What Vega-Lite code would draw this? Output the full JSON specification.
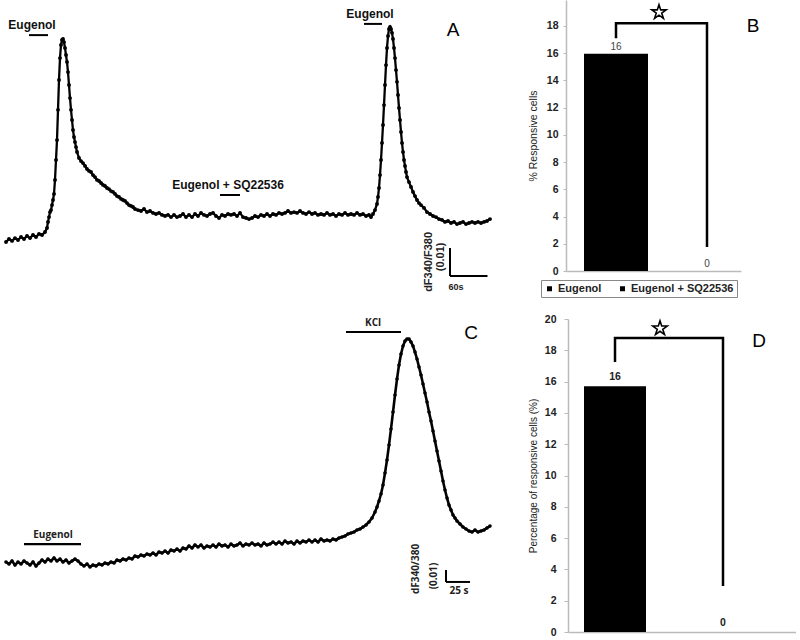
{
"$schema": "https://vega.github.io/schema/vega-lite/v6.json",
"padding": 0,
"background": "white",
"config": {"view": {"stroke": null}, "font": "Liberation Sans", "axis": {"labelOverlap": false}, "axisY": {"labelOverlap": false}},
"spacing": 14,
"resolve": {"scale": {"color": "independent"}, "legend": {"color": "independent"}},
"datasets": {
"traceA": [
{"t":0,"r":0.0207},{"t":4.8,"r":0.0218},{"t":9.6,"r":0.0211},{"t":14.4,"r":0.0221},{"t":19.2,"r":0.0214},{"t":24,"r":0.0225},{"t":28.8,"r":0.0218},{"t":33.6,"r":0.0229},{"t":38.4,"r":0.0221},{"t":43.2,"r":0.0232},{"t":48,"r":0.0225},{"t":52.8,"r":0.0236},{"t":57.6,"r":0.0232},{"t":62.4,"r":0.0243},{"t":65.6,"r":0.0257},{"t":67.2,"r":0.0279},{"t":68.8,"r":0.0296},{"t":70.4,"r":0.0314},{"t":72,"r":0.0321},{"t":73.6,"r":0.0339},{"t":75.2,"r":0.0357},{"t":76.8,"r":0.0379},{"t":78.4,"r":0.0429},{"t":80,"r":0.05},{"t":81.6,"r":0.0571},{"t":83.2,"r":0.0679},{"t":84.8,"r":0.0786},{"t":86.4,"r":0.0864},{"t":88,"r":0.0911},{"t":89.6,"r":0.0929},{"t":91.2,"r":0.0932},{"t":92.8,"r":0.0921},{"t":94.4,"r":0.09},{"t":96,"r":0.0875},{"t":97.6,"r":0.085},{"t":99.2,"r":0.0814},{"t":100.8,"r":0.0768},{"t":102.4,"r":0.0721},{"t":104,"r":0.0679},{"t":105.6,"r":0.0643},{"t":107.2,"r":0.0607},{"t":108.8,"r":0.0582},{"t":110.4,"r":0.0564},{"t":112,"r":0.0546},{"t":113.6,"r":0.0529},{"t":116.8,"r":0.0507},{"t":120,"r":0.0496},{"t":123.2,"r":0.0489},{"t":126.4,"r":0.0479},{"t":129.6,"r":0.0468},{"t":132.8,"r":0.0461},{"t":136,"r":0.0457},{"t":139.2,"r":0.0446},{"t":142.4,"r":0.0439},{"t":145.6,"r":0.0429},{"t":148.8,"r":0.0425},{"t":152,"r":0.0418},{"t":155.2,"r":0.0411},{"t":158.4,"r":0.0407},{"t":161.6,"r":0.04},{"t":164.8,"r":0.0396},{"t":168,"r":0.0389},{"t":171.2,"r":0.0386},{"t":174.4,"r":0.0379},{"t":177.6,"r":0.0371},{"t":180.8,"r":0.0368},{"t":184,"r":0.0361},{"t":187.2,"r":0.0357},{"t":190.4,"r":0.0354},{"t":193.6,"r":0.0346},{"t":196.8,"r":0.0339},{"t":200,"r":0.0336},{"t":203.2,"r":0.0332},{"t":206.4,"r":0.0325},{"t":211.2,"r":0.0321},{"t":216,"r":0.0318},{"t":220.8,"r":0.0325},{"t":225.6,"r":0.0314},{"t":230.4,"r":0.0318},{"t":235.2,"r":0.0311},{"t":240,"r":0.0307},{"t":244.8,"r":0.0311},{"t":249.6,"r":0.0304},{"t":254.4,"r":0.03},{"t":259.2,"r":0.0304},{"t":264,"r":0.0296},{"t":268.8,"r":0.0304},{"t":273.6,"r":0.0296},{"t":278.4,"r":0.03},{"t":283.2,"r":0.0307},{"t":288,"r":0.0296},{"t":292.8,"r":0.0304},{"t":297.6,"r":0.0296},{"t":302.4,"r":0.0307},{"t":307.2,"r":0.03},{"t":312,"r":0.0311},{"t":316.8,"r":0.0304},{"t":321.6,"r":0.03},{"t":326.4,"r":0.0307},{"t":331.2,"r":0.0311},{"t":336,"r":0.03},{"t":340.8,"r":0.0293},{"t":345.6,"r":0.0304},{"t":350.4,"r":0.03},{"t":355.2,"r":0.0307},{"t":360,"r":0.0304},{"t":364.8,"r":0.0307},{"t":369.6,"r":0.03},{"t":374.4,"r":0.0311},{"t":379.2,"r":0.0296},{"t":384,"r":0.0293},{"t":388.8,"r":0.0289},{"t":393.6,"r":0.0293},{"t":398.4,"r":0.03},{"t":403.2,"r":0.0296},{"t":408,"r":0.0304},{"t":412.8,"r":0.03},{"t":417.6,"r":0.0307},{"t":422.4,"r":0.03},{"t":427.2,"r":0.0307},{"t":432,"r":0.0304},{"t":436.8,"r":0.0311},{"t":441.6,"r":0.0307},{"t":446.4,"r":0.0311},{"t":451.2,"r":0.0318},{"t":456,"r":0.0311},{"t":460.8,"r":0.0314},{"t":465.6,"r":0.0311},{"t":470.4,"r":0.0318},{"t":475.2,"r":0.0311},{"t":480,"r":0.0307},{"t":484.8,"r":0.0314},{"t":489.6,"r":0.0307},{"t":494.4,"r":0.0311},{"t":499.2,"r":0.0304},{"t":504,"r":0.0307},{"t":508.8,"r":0.0304},{"t":513.6,"r":0.0311},{"t":518.4,"r":0.0304},{"t":523.2,"r":0.0307},{"t":528,"r":0.03},{"t":532.8,"r":0.0307},{"t":537.6,"r":0.0304},{"t":542.4,"r":0.0311},{"t":547.2,"r":0.0304},{"t":552,"r":0.0307},{"t":556.8,"r":0.0304},{"t":561.6,"r":0.0311},{"t":566.4,"r":0.0304},{"t":571.2,"r":0.0307},{"t":576,"r":0.03},{"t":580.8,"r":0.0304},{"t":584,"r":0.0296},{"t":587.2,"r":0.0307},{"t":590.4,"r":0.0321},{"t":593.6,"r":0.0343},{"t":595.2,"r":0.0368},{"t":596.8,"r":0.04},{"t":598.4,"r":0.0446},{"t":600,"r":0.05},{"t":601.6,"r":0.0561},{"t":603.2,"r":0.0625},{"t":604.8,"r":0.0696},{"t":606.4,"r":0.0768},{"t":608,"r":0.0839},{"t":609.6,"r":0.09},{"t":611.2,"r":0.0943},{"t":612.8,"r":0.0968},{"t":614.4,"r":0.0975},{"t":616,"r":0.0968},{"t":617.6,"r":0.0954},{"t":619.2,"r":0.0932},{"t":620.8,"r":0.09},{"t":622.4,"r":0.0864},{"t":624,"r":0.0821},{"t":625.6,"r":0.0779},{"t":627.2,"r":0.0732},{"t":628.8,"r":0.0686},{"t":630.4,"r":0.0643},{"t":632,"r":0.06},{"t":633.6,"r":0.0561},{"t":635.2,"r":0.0529},{"t":636.8,"r":0.05},{"t":638.4,"r":0.0479},{"t":640,"r":0.0457},{"t":641.6,"r":0.0439},{"t":644.8,"r":0.0421},{"t":648,"r":0.0404},{"t":651.2,"r":0.0386},{"t":654.4,"r":0.0371},{"t":657.6,"r":0.0357},{"t":660.8,"r":0.0346},{"t":664,"r":0.0339},{"t":668.8,"r":0.0329},{"t":673.6,"r":0.0314},{"t":678.4,"r":0.0307},{"t":683.2,"r":0.03},{"t":688,"r":0.0296},{"t":692.8,"r":0.0289},{"t":697.6,"r":0.0286},{"t":702.4,"r":0.0279},{"t":707.2,"r":0.0282},{"t":712,"r":0.0275},{"t":716.8,"r":0.0279},{"t":721.6,"r":0.0271},{"t":726.4,"r":0.0275},{"t":731.2,"r":0.0279},{"t":736,"r":0.0271},{"t":740.8,"r":0.0275},{"t":745.6,"r":0.0279},{"t":750.4,"r":0.0275},{"t":755.2,"r":0.0279},{"t":760,"r":0.0275},{"t":764.8,"r":0.0279},{"t":769.6,"r":0.0282},{"t":774.4,"r":0.0289}
],
"stimA": [
{"label":"Eugenol","start":36.8,"end":67.2,"mid":41.6,"level":0.0946},
{"label":"Eugenol","start":572.8,"end":601.6,"mid":582.4,"level":0.0986},
{"label":"Eugenol + SQ22536","start":342.4,"end":374.4,"mid":355.2,"level":0.0375}
],
"scaleA": [
{"t1":710.4,"t2":710.4,"r1":0.0186,"r2":0.0086},
{"t1":710.4,"t2":770.4,"r1":0.0086,"r2":0.0086}
],
"traceC": [
{"t":0,"r":0.0583},{"t":3.12,"r":0.0567},{"t":6.24,"r":0.0592},{"t":9.36,"r":0.0558},{"t":12.48,"r":0.0583},{"t":15.6,"r":0.0567},{"t":18.72,"r":0.0592},{"t":21.84,"r":0.0575},{"t":24.96,"r":0.0558},{"t":28.08,"r":0.0583},{"t":31.2,"r":0.055},{"t":34.32,"r":0.0575},{"t":37.44,"r":0.06},{"t":40.56,"r":0.0583},{"t":43.68,"r":0.0608},{"t":46.8,"r":0.0592},{"t":49.92,"r":0.0617},{"t":53.04,"r":0.0592},{"t":56.16,"r":0.0608},{"t":59.28,"r":0.0583},{"t":62.4,"r":0.06},{"t":65.52,"r":0.0575},{"t":68.64,"r":0.0592},{"t":71.76,"r":0.0608},{"t":74.88,"r":0.0592},{"t":78,"r":0.0567},{"t":81.12,"r":0.055},{"t":84.24,"r":0.0567},{"t":87.36,"r":0.0542},{"t":90.48,"r":0.0558},{"t":93.6,"r":0.055},{"t":96.72,"r":0.0567},{"t":99.84,"r":0.0558},{"t":102.96,"r":0.0575},{"t":106.08,"r":0.0567},{"t":109.2,"r":0.0583},{"t":112.32,"r":0.0575},{"t":115.44,"r":0.06},{"t":118.56,"r":0.0592},{"t":121.68,"r":0.0608},{"t":124.8,"r":0.06},{"t":127.92,"r":0.0617},{"t":131.04,"r":0.0608},{"t":134.16,"r":0.0633},{"t":137.28,"r":0.0625},{"t":140.4,"r":0.0642},{"t":143.52,"r":0.0633},{"t":146.64,"r":0.065},{"t":149.76,"r":0.0642},{"t":152.88,"r":0.0658},{"t":156,"r":0.0642},{"t":159.12,"r":0.0667},{"t":162.24,"r":0.0658},{"t":165.36,"r":0.0675},{"t":168.48,"r":0.0658},{"t":171.6,"r":0.0683},{"t":174.72,"r":0.0675},{"t":177.84,"r":0.0692},{"t":180.96,"r":0.0675},{"t":184.08,"r":0.07},{"t":187.2,"r":0.0692},{"t":190.32,"r":0.0717},{"t":193.44,"r":0.07},{"t":196.56,"r":0.0725},{"t":199.68,"r":0.0708},{"t":202.8,"r":0.0725},{"t":205.92,"r":0.07},{"t":209.04,"r":0.0717},{"t":212.16,"r":0.0708},{"t":215.28,"r":0.0725},{"t":218.4,"r":0.0708},{"t":221.52,"r":0.0733},{"t":224.64,"r":0.0717},{"t":227.76,"r":0.0725},{"t":230.88,"r":0.0708},{"t":234,"r":0.0733},{"t":237.12,"r":0.0717},{"t":240.24,"r":0.0725},{"t":243.36,"r":0.0742},{"t":246.48,"r":0.0717},{"t":249.6,"r":0.0733},{"t":252.72,"r":0.0725},{"t":255.84,"r":0.0742},{"t":258.96,"r":0.0725},{"t":262.08,"r":0.0733},{"t":265.2,"r":0.0717},{"t":268.32,"r":0.0742},{"t":271.44,"r":0.0725},{"t":274.56,"r":0.0733},{"t":277.68,"r":0.075},{"t":280.8,"r":0.0733},{"t":283.92,"r":0.075},{"t":287.04,"r":0.0733},{"t":290.16,"r":0.0758},{"t":293.28,"r":0.0742},{"t":296.4,"r":0.075},{"t":299.52,"r":0.0733},{"t":302.64,"r":0.0758},{"t":305.76,"r":0.0742},{"t":308.88,"r":0.0758},{"t":312,"r":0.075},{"t":315.12,"r":0.0767},{"t":318.24,"r":0.075},{"t":321.36,"r":0.0767},{"t":324.48,"r":0.075},{"t":327.6,"r":0.0775},{"t":330.72,"r":0.0758},{"t":333.84,"r":0.0767},{"t":336.96,"r":0.0758},{"t":340.08,"r":0.0775},{"t":343.2,"r":0.0767},{"t":346.32,"r":0.0783},{"t":349.44,"r":0.0792},{"t":352.56,"r":0.08},{"t":355.68,"r":0.0817},{"t":358.8,"r":0.0825},{"t":361.92,"r":0.0833},{"t":365.04,"r":0.085},{"t":368.16,"r":0.0858},{"t":371.28,"r":0.0875},{"t":374.4,"r":0.0892},{"t":377.52,"r":0.0917},{"t":380.64,"r":0.095},{"t":383.76,"r":0.1},{"t":385.84,"r":0.1042},{"t":387.92,"r":0.1092},{"t":390,"r":0.115},{"t":392.08,"r":0.1225},{"t":394.16,"r":0.1325},{"t":396.24,"r":0.1433},{"t":398.32,"r":0.1558},{"t":400.4,"r":0.1692},{"t":402.48,"r":0.1833},{"t":404.56,"r":0.1975},{"t":406.64,"r":0.2108},{"t":408.72,"r":0.2225},{"t":410.8,"r":0.2317},{"t":412.88,"r":0.2383},{"t":414.96,"r":0.2425},{"t":417.04,"r":0.2442},{"t":419.12,"r":0.2442},{"t":421.2,"r":0.2417},{"t":423.28,"r":0.2383},{"t":425.36,"r":0.2333},{"t":427.44,"r":0.2275},{"t":429.52,"r":0.2208},{"t":431.6,"r":0.2142},{"t":433.68,"r":0.2067},{"t":435.76,"r":0.1992},{"t":437.84,"r":0.1917},{"t":439.92,"r":0.1833},{"t":442,"r":0.1758},{"t":444.08,"r":0.1675},{"t":446.16,"r":0.1592},{"t":448.24,"r":0.1508},{"t":450.32,"r":0.1425},{"t":452.4,"r":0.1342},{"t":454.48,"r":0.1258},{"t":456.56,"r":0.1183},{"t":458.64,"r":0.1117},{"t":460.72,"r":0.1058},{"t":462.8,"r":0.1017},{"t":464.88,"r":0.0975},{"t":466.96,"r":0.095},{"t":469.04,"r":0.0925},{"t":472.16,"r":0.09},{"t":475.28,"r":0.0875},{"t":478.4,"r":0.0858},{"t":481.52,"r":0.0842},{"t":484.64,"r":0.0833},{"t":487.76,"r":0.085},{"t":490.88,"r":0.0833},{"t":494,"r":0.0842},{"t":497.12,"r":0.085},{"t":500.24,"r":0.0867},{"t":503.36,"r":0.0883}
],
"stimC": [
{"label":"KCl","start":353.6,"end":410.8,"mid":381.7,"level":0.25},
{"label":"Eugenol","start":18.7,"end":78,"mid":48.9,"level":0.0733}
],
"scaleC": [
{"t1":457.6,"t2":457.6,"r1":0.0517,"r2":0.0417},
{"t1":457.6,"t2":482.6,"r1":0.0417,"r2":0.0417}
],
"barsB": [
{"group":"Eugenol","value":15.95},
{"group":"Eugenol + SQ22536","value":0}
],
"bracketB": [
{"group":"Eugenol","v":17.1,"o":1},
{"group":"Eugenol","v":18.2,"o":2},
{"group":"Eugenol + SQ22536","v":18.2,"o":3},
{"group":"Eugenol + SQ22536","v":1.76,"o":4}
],
"barsD": [
{"group":"Eugenol","value":15.7},
{"group":"Eugenol (KCl)","value":0}
],
"bracketD": [
{"group":"Eugenol","v":17.25,"o":1},
{"group":"Eugenol","v":18.79,"o":2},
{"group":"Eugenol (KCl)","v":18.79,"o":3},
{"group":"Eugenol (KCl)","v":2.94,"o":4}
],
"one": [{}]
},
"vconcat": [
{
"bounds": "flush",
"spacing": 65,
"resolve": {"scale": {"color": "independent"}, "legend": {"color": "independent"}},
"hconcat": [
{
"width": 500, "height": 300,
"layer": [
{"data": {"name": "traceA"}, "mark": {"type": "line", "color": "black", "strokeWidth": 2.3, "point": {"filled": true, "size": 15, "color": "black"}},
 "encoding": {"x": {"field": "t", "type": "quantitative", "scale": {"domain": [-8, 792], "nice": false}, "axis": null},
              "y": {"field": "r", "type": "quantitative", "scale": {"domain": [0, 0.10714], "nice": false}, "axis": null}}},
{"data": {"name": "stimA"}, "mark": {"type": "rule", "color": "black", "strokeWidth": 2},
 "encoding": {"x": {"field": "start", "type": "quantitative", "scale": {"domain": [-8, 792], "nice": false}, "axis": null}, "x2": {"field": "end"},
              "y": {"field": "level", "type": "quantitative", "scale": {"domain": [0, 0.10714], "nice": false}, "axis": null}}},
{"data": {"name": "stimA"}, "mark": {"type": "text", "fontWeight": "bold", "fontSize": 12, "dy": -10, "color": "#111"},
 "encoding": {"x": {"field": "mid", "type": "quantitative"}, "y": {"field": "level", "type": "quantitative"}, "text": {"field": "label"}}},
{"data": {"name": "scaleA"}, "mark": {"type": "rule", "color": "black", "strokeWidth": 2},
 "encoding": {"x": {"field": "t1", "type": "quantitative"}, "x2": {"field": "t2"}, "y": {"field": "r1", "type": "quantitative"}, "y2": {"field": "r2"}}},
{"data": {"name": "one"}, "mark": {"type": "text", "text": "dF340/F380", "angle": 270, "fontWeight": "bold", "fontSize": 11, "baseline": "middle", "color": "#222"},
 "encoding": {"x": {"datum": 676.8, "type": "quantitative"}, "y": {"datum": 0.0136, "type": "quantitative"}}},
{"data": {"name": "one"}, "mark": {"type": "text", "text": "(0.01)", "angle": 270, "fontWeight": "bold", "fontSize": 11, "baseline": "middle", "color": "#222"},
 "encoding": {"x": {"datum": 696, "type": "quantitative"}, "y": {"datum": 0.0154, "type": "quantitative"}}},
{"data": {"name": "one"}, "mark": {"type": "text", "text": "60s", "fontWeight": "bold", "fontSize": 9, "baseline": "middle", "color": "#222"},
 "encoding": {"x": {"datum": 720, "type": "quantitative"}, "y": {"datum": 0.0046, "type": "quantitative"}}},
{"data": {"name": "one"}, "mark": {"type": "text", "text": "A", "fontSize": 19, "baseline": "middle"},
 "encoding": {"x": {"datum": 715.2, "type": "quantitative"}, "y": {"datum": 0.0964, "type": "quantitative"}}}
]
},
{
"width": 175, "height": 271,
"encoding": {
  "y": {"type": "quantitative", "scale": {"domain": [0, 19.9], "nice": false},
        "axis": {"title": "% Responsive cells", "titleFontWeight": "normal", "titleFontSize": 10.5, "titleColor": "#222", "titlePadding": 8,
                 "values": [0,2,4,6,8,10,12,14,16,18], "labelOverlap": false, "labelFontWeight": "bold", "labelFontSize": 10.5, "labelColor": "#222", "labelPadding": 5,
                 "grid": false, "domainColor": "#bbbbbb", "domainWidth": 1.5, "tickColor": "#bbbbbb", "tickSize": 3}}
},
"layer": [
{"data": {"name": "barsB"}, "mark": {"type": "bar"},
 "encoding": {
  "x": {"field": "group", "type": "nominal", "scale": {"type": "band", "domain": ["Eugenol", "Eugenol + SQ22536"], "paddingInner": 0.2967, "paddingOuter": 0.1099, "align": 0.9},
        "axis": {"title": null, "labels": false, "ticks": false, "domainColor": "#bbbbbb", "domainWidth": 1.5}},
  "y": {"field": "value"},
  "color": {"field": "group", "type": "nominal", "scale": {"domain": ["Eugenol", "Eugenol + SQ22536"], "range": ["black", "black"]},
            "legend": {"title": null, "orient": "none", "legendX": -25, "legendY": 280, "direction": "horizontal", "symbolType": "square", "symbolSize": 25, "symbolStrokeWidth": 0,
                       "labelFontWeight": "bold", "labelFontSize": 11, "labelColor": "#222", "labelOffset": 3, "columnPadding": 15, "padding": 3,
                       "strokeColor": "#888888"}}
 }},
{"data": {"name": "barsB"}, "mark": {"type": "text", "fontSize": 10, "color": "#444", "dy": -7},
 "encoding": {"x": {"field": "group", "type": "nominal", "bandPosition": 0.5}, "y": {"field": "value"}, "text": {"field": "value", "type": "quantitative", "format": ".0f"}}},
{"data": {"name": "bracketB"}, "mark": {"type": "line", "color": "black", "strokeWidth": 2.5, "strokeJoin": "miter", "strokeCap": "butt"},
 "encoding": {"x": {"field": "group", "type": "nominal", "bandPosition": 0.5}, "y": {"field": "v"}, "order": {"field": "o"}}},
{"data": {"name": "one"}, "mark": {"type": "point", "shape": "M0,-1L0.2245,-0.309L0.951,-0.309L0.363,0.118L0.588,0.809L0,0.382L-0.588,0.809L-0.363,0.118L-0.951,-0.309L-0.2245,-0.309Z", "size": 230, "filled": false, "stroke": "black", "strokeWidth": 1.6, "opacity": 1, "xOffset": 43},
 "encoding": {"x": {"datum": "Eugenol", "type": "nominal", "bandPosition": 0.5}, "y": {"datum": 19.0}}},
{"data": {"name": "one"}, "mark": {"type": "text", "text": "B", "fontSize": 19, "baseline": "middle", "dx": 46},
 "encoding": {"x": {"datum": "Eugenol + SQ22536", "type": "nominal", "bandPosition": 0.5}, "y": {"datum": 18.0}}}
]
}
]
},
{
"bounds": "flush",
"spacing": 67,
"hconcat": [
{
"width": 500, "height": 313,
"layer": [
{"data": {"name": "traceC"}, "mark": {"type": "line", "color": "black", "strokeWidth": 2.6, "point": {"filled": true, "size": 13, "color": "black"}},
 "encoding": {"x": {"field": "t", "type": "quantitative", "scale": {"domain": [-5.2, 514.8], "nice": false}, "axis": null},
              "y": {"field": "r", "type": "quantitative", "scale": {"domain": [0, 0.26083], "nice": false}, "axis": null}}},
{"data": {"name": "stimC"}, "mark": {"type": "rule", "color": "black", "strokeWidth": 2.2},
 "encoding": {"x": {"field": "start", "type": "quantitative", "scale": {"domain": [-5.2, 514.8], "nice": false}, "axis": null}, "x2": {"field": "end"},
              "y": {"field": "level", "type": "quantitative", "scale": {"domain": [0, 0.26083], "nice": false}, "axis": null}}},
{"data": {"name": "stimC"}, "mark": {"type": "text", "font": "Open Sans", "fontWeight": "bold", "fontSize": 10, "dy": -9, "color": "#222"},
 "encoding": {"x": {"field": "mid", "type": "quantitative"}, "y": {"field": "level", "type": "quantitative"}, "text": {"field": "label"}}},
{"data": {"name": "scaleC"}, "mark": {"type": "rule", "color": "black", "strokeWidth": 2},
 "encoding": {"x": {"field": "t1", "type": "quantitative"}, "x2": {"field": "t2"}, "y": {"field": "r1", "type": "quantitative"}, "y2": {"field": "r2"}}},
{"data": {"name": "one"}, "mark": {"type": "text", "text": "dF340/380", "angle": 270, "font": "Open Sans", "fontWeight": "bold", "fontSize": 10, "baseline": "middle", "color": "#222"},
 "encoding": {"x": {"datum": 426.4, "type": "quantitative"}, "y": {"datum": 0.0525, "type": "quantitative"}}},
{"data": {"name": "one"}, "mark": {"type": "text", "text": "(0.01)", "angle": 270, "font": "Open Sans", "fontWeight": "bold", "fontSize": 10, "baseline": "middle", "color": "#222"},
 "encoding": {"x": {"datum": 445.1, "type": "quantitative"}, "y": {"datum": 0.0467, "type": "quantitative"}}},
{"data": {"name": "one"}, "mark": {"type": "text", "text": "25 s", "font": "Open Sans", "fontWeight": "bold", "fontSize": 10, "baseline": "middle", "color": "#222"},
 "encoding": {"x": {"datum": 471.1, "type": "quantitative"}, "y": {"datum": 0.0342, "type": "quantitative"}}},
{"data": {"name": "one"}, "mark": {"type": "text", "text": "C", "fontSize": 19, "baseline": "middle"},
 "encoding": {"x": {"datum": 483.6, "type": "quantitative"}, "y": {"datum": 0.2492, "type": "quantitative"}}}
]
},
{
"width": 228, "height": 313,
"encoding": {
  "y": {"type": "quantitative", "scale": {"domain": [0, 20], "nice": false},
        "axis": {"title": "Percentage of responsive cells (%)", "titleFontWeight": "normal", "titleFontSize": 10, "titleColor": "#222", "titlePadding": 6,
                 "values": [0,2,4,6,8,10,12,14,16,18,20], "labelOverlap": false, "labelFontWeight": "bold", "labelFontSize": 10.5, "labelColor": "#222", "labelPadding": 8,
                 "grid": false, "domainColor": "#bbbbbb", "domainWidth": 1.5, "tickColor": "#bbbbbb", "tickSize": 4}}
},
"layer": [
{"data": {"name": "barsD"}, "mark": {"type": "bar", "color": "black"},
 "encoding": {
  "x": {"field": "group", "type": "nominal", "scale": {"type": "band", "domain": ["Eugenol", "Eugenol (KCl)"], "paddingInner": 0.426, "paddingOuter": 0.2685, "align": 0.276},
        "axis": {"title": null, "labels": false, "ticks": false, "domainColor": "#bbbbbb", "domainWidth": 1.5}},
  "y": {"field": "value"}
 }},
{"data": {"name": "barsD"}, "mark": {"type": "text", "fontSize": 10.5, "fontWeight": "bold", "color": "#222", "dy": -9},
 "encoding": {"x": {"field": "group", "type": "nominal", "bandPosition": 0.5}, "y": {"field": "value"}, "text": {"field": "value", "type": "quantitative", "format": ".0f"}}},
{"data": {"name": "bracketD"}, "mark": {"type": "line", "color": "black", "strokeWidth": 2.5, "strokeJoin": "miter", "strokeCap": "butt"},
 "encoding": {"x": {"field": "group", "type": "nominal", "bandPosition": 0.5}, "y": {"field": "v"}, "order": {"field": "o"}}},
{"data": {"name": "one"}, "mark": {"type": "point", "shape": "M0,-1L0.2245,-0.309L0.951,-0.309L0.363,0.118L0.588,0.809L0,0.382L-0.588,0.809L-0.363,0.118L-0.951,-0.309L-0.2245,-0.309Z", "size": 230, "filled": false, "stroke": "black", "strokeWidth": 1.6, "opacity": 1, "xOffset": 45},
 "encoding": {"x": {"datum": "Eugenol", "type": "nominal", "bandPosition": 0.5}, "y": {"datum": 19.4}}},
{"data": {"name": "one"}, "mark": {"type": "text", "text": "D", "fontSize": 19, "baseline": "middle", "dx": 36},
 "encoding": {"x": {"datum": "Eugenol (KCl)", "type": "nominal", "bandPosition": 0.5}, "y": {"datum": 18.6}}}
]
}
]
}
]
}
